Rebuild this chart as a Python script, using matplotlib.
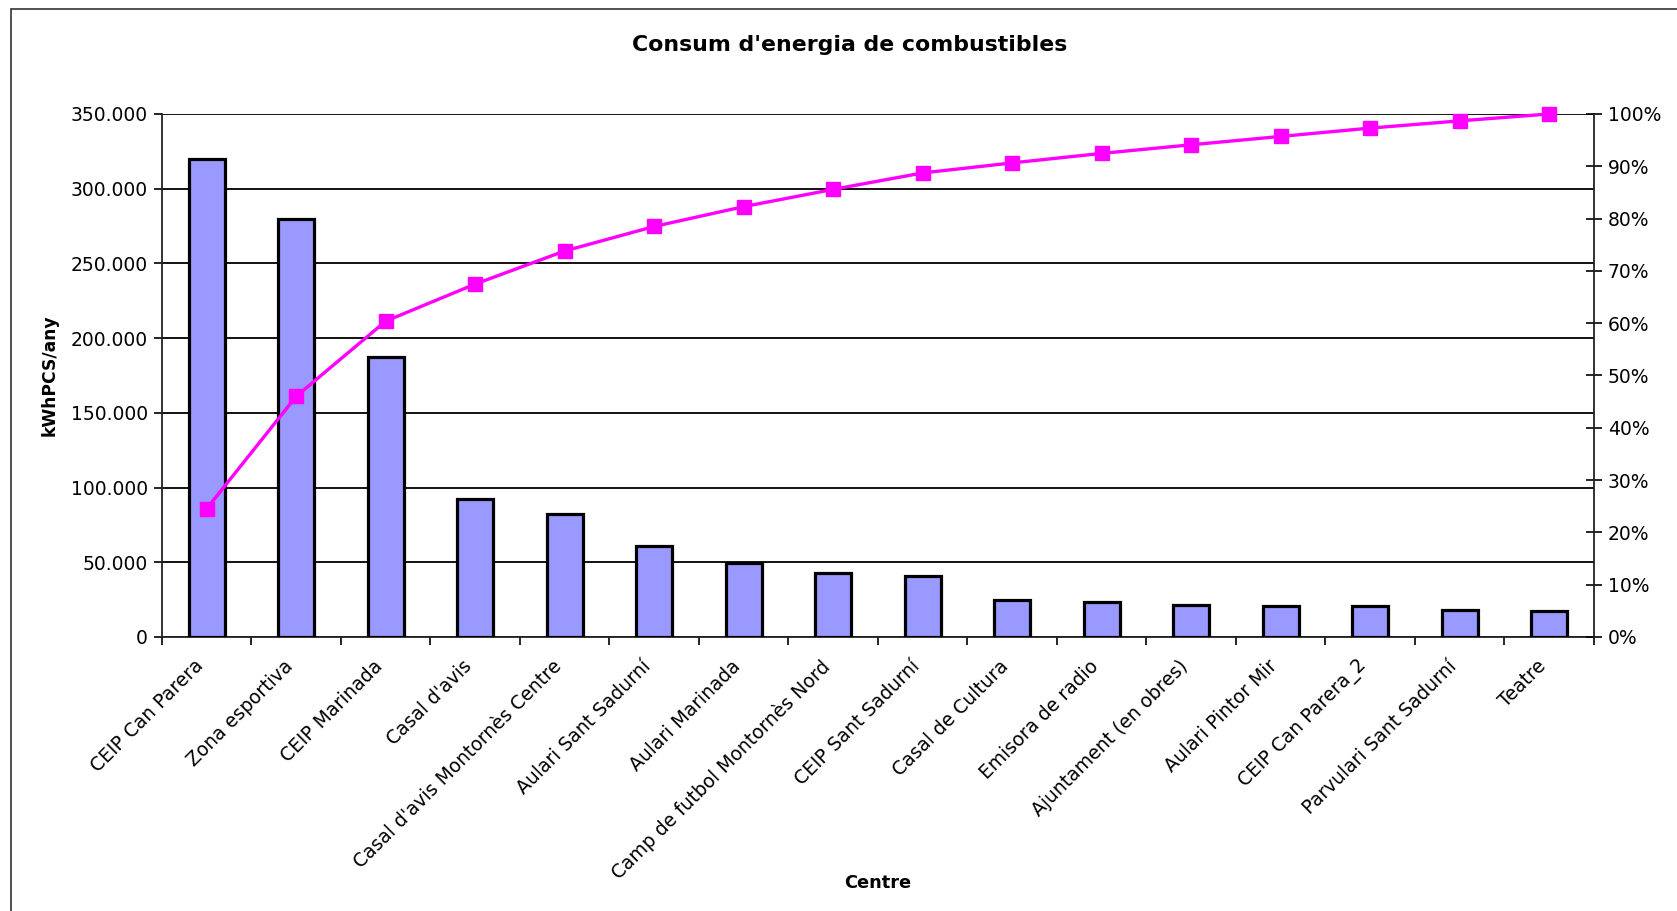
import numpy as np
import matplotlib
matplotlib.use("Agg")
import matplotlib.pyplot as plt
from matplotlib.patches import Rectangle
from matplotlib.ticker import FuncFormatter, MultipleLocator
from matplotlib.transforms import ScaledTranslation

centres = [
    "CEIP Can Parera",
    "Zona esportiva",
    "CEIP Marinada",
    "Casal d'avis",
    "Casal d'avis Montornès Centre",
    "Aulari Sant Sadurní",
    "Aulari Marinada",
    "Camp de futbol Montornès Nord",
    "CEIP Sant Sadurní",
    "Casal de Cultura",
    "Emisora de radio",
    "Ajuntament (en obres)",
    "Aulari Pintor Mir",
    "CEIP Can Parera_2",
    "Parvulari Sant Sadurní",
    "Teatre",
]

# kWhPCS per year, sorted descending
consum = [320000, 280000, 187500, 92500, 82500, 61000, 49500, 43000,
          41000, 25000, 23700, 21500, 20800, 20800, 18000, 17200]

consum = np.array(consum, dtype=float)
acumulat = np.cumsum(consum) / consum.sum() * 100
x = np.arange(len(centres))

plt.rcParams["font.family"] = "DejaVu Sans"

fig = plt.figure(figsize=(16.77, 9.11), dpi=100)
ax = fig.add_axes([0.0966, 0.3008, 0.8539, 0.5741])

ax.bar(x, consum, width=0.40, color="#9999FF", edgecolor="black", linewidth=2.3, zorder=3)
ax.set_xlim(-0.5, len(centres) - 0.5)
ax.set_ylim(0, 350000)
ax.yaxis.set_major_locator(MultipleLocator(50000))
ax.yaxis.set_major_formatter(FuncFormatter(lambda v, p: f"{v:,.0f}".replace(",", ".")))
ax.grid(axis="y", color="black", linewidth=1.3, zorder=1)
ax.set_axisbelow(True)

ax.set_xticks(x)
ax.set_xticklabels(centres, rotation=45, ha="right", rotation_mode="anchor", fontsize=13.5)
ax.set_xticks(np.arange(-0.5, len(centres)), minor=True)
ax.tick_params(axis="x", which="major", length=0, pad=14)
ax.tick_params(axis="x", which="minor", length=6, width=1.2, direction="out")
ax.tick_params(axis="y", length=6, width=1.2, labelsize=13.5, pad=4)

# nudge the slanted labels left so they end just under the bar
shift = ScaledTranslation(-0.13, 0, fig.dpi_scale_trans)
for lab in ax.get_xticklabels():
    lab.set_transform(lab.get_transform() + shift)

for side in ["top", "right"]:
    ax.spines[side].set_visible(False)
for side in ["left", "bottom"]:
    ax.spines[side].set_linewidth(1.3)
    ax.spines[side].set_color("#222222")

ax2 = ax.twinx()
ax2.plot(x, acumulat, color="#FF00FF", linewidth=2.4, marker="s", markersize=9.5,
         clip_on=False, zorder=4)
ax2.set_ylim(0, 100)
ax2.yaxis.set_major_locator(MultipleLocator(10))
ax2.yaxis.set_major_formatter(FuncFormatter(lambda v, p: f"{v:.0f}%"))
ax2.tick_params(axis="y", direction="inout", length=12, width=1.2, labelsize=13.5, pad=4)
for side in ["top", "left", "bottom"]:
    ax2.spines[side].set_visible(False)
ax2.spines["right"].set_linewidth(1.3)
ax2.spines["right"].set_color("#222222")

fig.text(850 / 1677, 1 - 45 / 911, "Consum d'energia de combustibles",
         ha="center", va="center", fontsize=15.8, fontweight="bold")
fig.text(878 / 1677, 1 - 883 / 911, "Centre",
         ha="center", va="center", fontsize=12.8, fontweight="bold")
fig.text(50 / 1677, 1 - 375 / 911, "kWhPCS/any", rotation=90,
         ha="center", va="center", fontsize=12.3, fontweight="bold")

# outer chart frame
fig.patches.append(Rectangle((11 / 1677, -0.5), 2, 1.5 - 9 / 911, transform=fig.transFigure,
                             fill=False, edgecolor="#333333", linewidth=1.2))

fig.savefig("out.png", dpi=100)
